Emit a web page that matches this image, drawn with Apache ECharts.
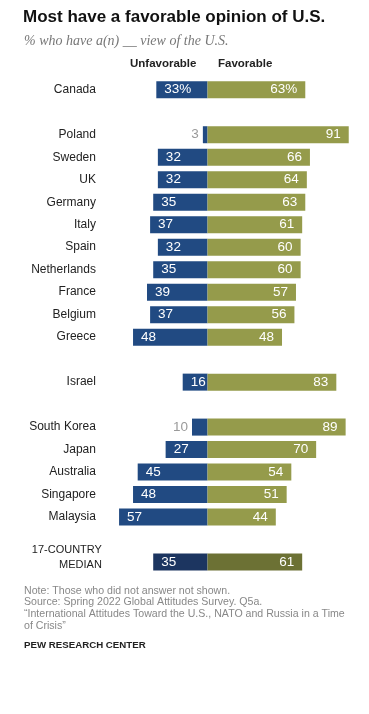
<!DOCTYPE html>
<html>
<head>
<meta charset="utf-8">
<script src="https://cdn.jsdelivr.net/npm/echarts@6/dist/echarts.min.js"></script>
<style>
html,body{margin:0;padding:0;background:#fff;}
#c{width:369px;height:714px;}
</style>
</head>
<body>
<div id="c"></div>
<script>
const categories = ['Canada',' ','Poland','Sweden','UK','Germany','Italy','Spain','Netherlands','France','Belgium','Greece','  ','Israel','   ','South Korea','Japan','Australia','Singapore','Malaysia','    ','17-COUNTRY\nMEDIAN'];
const unfavorable = [33,null,3,32,32,35,37,32,35,39,37,48,null,16,null,10,27,45,48,57,null,35];
const favorable = [63,null,91,66,64,63,61,60,60,57,56,48,null,83,null,89,70,54,51,44,null,61];
const percentRows = ['Canada'];
const medianRows = ['17-COUNTRY\nMEDIAN'];
const smallRows = ['Poland','South Korea'];

const BLUE = '#214a82', OLIVE = '#959b4b', BLUE_D = '#1c3560', OLIVE_D = '#6c7134';

const unfData = unfavorable.map((v, i) => {
  if (v == null) return null;
  const c = categories[i];
  const d = { value: -v };
  if (medianRows.includes(c)) d.itemStyle = { color: BLUE_D };
  if (smallRows.includes(c)) d.label = { position: 'left', color: '#9a9a9a', distance: 4 };
  return d;
});
const favData = favorable.map((v, i) => {
  if (v == null) return null;
  const c = categories[i];
  const d = { value: v };
  if (medianRows.includes(c)) d.itemStyle = { color: OLIVE_D };
  return d;
});

const chart = echarts.init(document.getElementById('c'), null, { renderer: 'canvas' });
const FONT = 'Liberation Sans, Arial, sans-serif';
chart.setOption({
  animation: false,
  textStyle: { fontFamily: FONT },
  title: [
    { text: 'Most have a favorable opinion of U.S.', left: 23, top: 9, padding: 0,
      textStyle: { fontSize: 17, fontWeight: 'bold', color: '#111', fontFamily: FONT } },
    { text: '% who have a(n) __ view of the U.S.', left: 24, top: 34, padding: 0,
      textStyle: { fontSize: 14, fontStyle: 'italic', fontWeight: 'normal', color: '#777', fontFamily: 'Liberation Serif, serif' } },
    { text: 'Unfavorable', left: 130, top: 58, padding: 0,
      textStyle: { fontSize: 11.5, fontWeight: 'bold', color: '#222', fontFamily: FONT } },
    { text: 'Favorable', left: 218, top: 58, padding: 0,
      textStyle: { fontSize: 11.5, fontWeight: 'bold', color: '#222', fontFamily: FONT } },
    { text: 'Note: Those who did not answer not shown.\nSource: Spring 2022 Global Attitudes Survey. Q5a.\n\u201cInternational Attitudes Toward the U.S., NATO and Russia in a Time\nof Crisis\u201d',
      left: 24, top: 585, padding: 0,
      textStyle: { fontSize: 10.6, fontWeight: 'normal', color: '#888', lineHeight: 11.7, fontFamily: FONT } },
    { text: 'PEW RESEARCH CENTER', left: 24, top: 640, padding: 0,
      textStyle: { fontSize: 9.7, fontWeight: 'bold', color: '#222', fontFamily: FONT } }
  ],
  grid: { left: 98.9, width: 263.8, top: 78.5, height: 494.8, containLabel: false },
  xAxis: { type: 'value', min: -70, max: 100, show: false },
  yAxis: {
    type: 'category', data: categories, inverse: true,
    axisLine: { show: false }, axisTick: { show: false }, splitLine: { show: false },
    axisLabel: {
      interval: 0, hideOverlap: false,
      margin: 3, color: '#222', fontSize: 12, fontFamily: FONT,
      formatter: function (v) {
        if (medianRows.includes(v)) return '{m|' + v + '}';
        return v;
      },
      rich: { m: { fontSize: 11, lineHeight: 15, color: '#222', padding: [0, -6, 10, 0], align: 'right', fontFamily: FONT } }
    }
  },
  series: [
    {
      name: 'Unfavorable', type: 'bar', stack: 'a', barWidth: 17, data: unfData,
      itemStyle: { color: BLUE },
      label: {
        show: true, position: 'insideLeft', distance: 8, color: '#fff', fontSize: 13.5, fontFamily: FONT,
        formatter: function (p) { return Math.abs(p.value) + (percentRows.includes(p.name) ? '%' : ''); }
      }
    },
    {
      name: 'Favorable', type: 'bar', stack: 'a', barWidth: 17, data: favData,
      itemStyle: { color: OLIVE },
      label: {
        show: true, position: 'insideRight', distance: 8, color: '#fff', fontSize: 13.5, fontFamily: FONT,
        formatter: function (p) { return p.value + (percentRows.includes(p.name) ? '%' : ''); }
      }
    }
  ]
});
</script>
</body>
</html>
